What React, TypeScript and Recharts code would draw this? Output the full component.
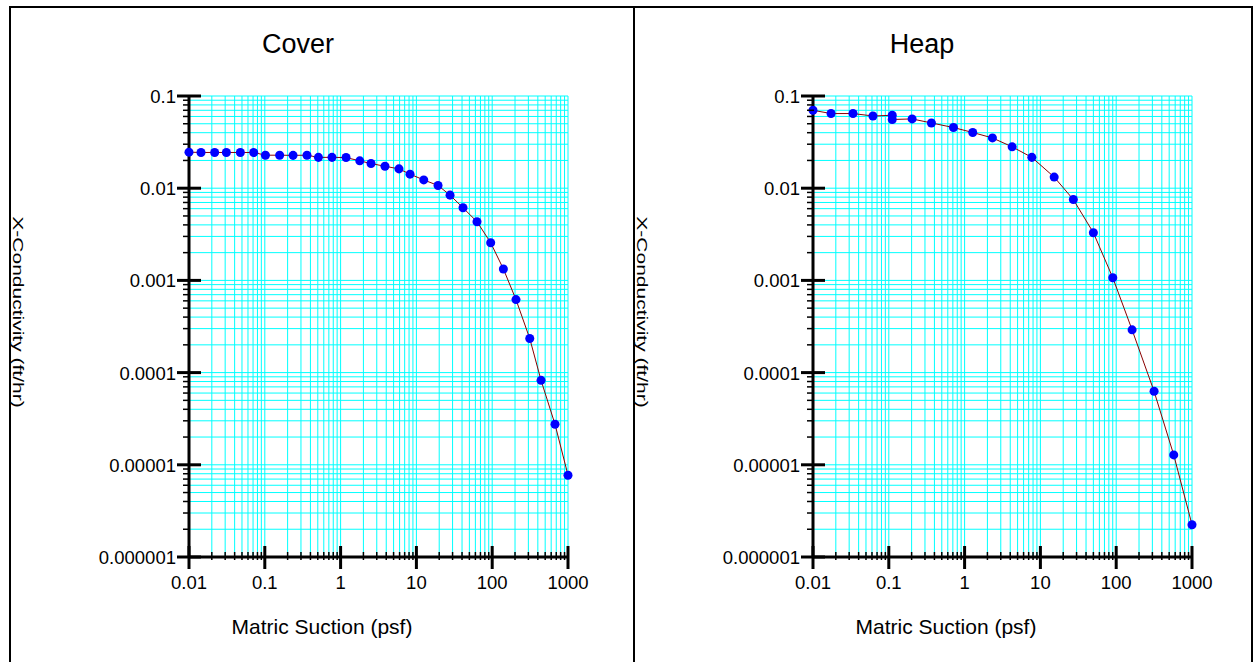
import React from "react";
import { ScatterChart, Scatter, XAxis, YAxis, CartesianGrid } from "recharts";

// major ticks (labelled); minor ticks 2..9 are added per decade below
const suctionMajor = [0.01, 0.1, 1, 10, 100, 1000];
const conductivityMajor = [0.000001, 0.00001, 0.0001, 0.001, 0.01, 0.1];

// Cover material: matric suction (psf) vs x-conductivity (ft/hr)
const coverSuction = [
  0.01, 0.0144, 0.0218, 0.0311, 0.0476, 0.0714, 0.102, 0.157, 0.236, 0.36,
  0.51, 0.77, 1.18, 1.79, 2.52, 3.85, 5.89, 8.24, 12.5, 19.3, 27.8, 41.2, 63,
  95.5, 140.5, 206, 313, 441, 674, 1000,
];
const coverConductivity = [
  0.0246, 0.0244, 0.0244, 0.0244, 0.0244, 0.0244, 0.0228, 0.0228, 0.0227,
  0.0228, 0.0216, 0.0216, 0.0215, 0.0198, 0.0185, 0.0173, 0.0162, 0.0142,
  0.0123, 0.0107, 0.00841, 0.00613, 0.00433, 0.00256, 0.00133, 0.000619,
  0.000234, 0.0000824, 0.0000275, 0.0000077,
];

// Heap material
const heapSuction = [
  0.01, 0.0173, 0.0337, 0.0618, 0.111, 0.111, 0.203, 0.365, 0.713, 1.28, 2.33,
  4.24, 7.71, 15.2, 27.2, 50, 90.1, 162, 316, 574, 1000,
];
const heapConductivity = [
  0.07, 0.0645, 0.0645, 0.0607, 0.0618, 0.0556, 0.0564, 0.051, 0.0455, 0.0402,
  0.0351, 0.0281, 0.0216, 0.0132, 0.00753, 0.00329, 0.00107, 0.000291,
  0.0000627, 0.0000128, 0.00000224,
];

const FONT = "'Liberation Sans', Arial, Helvetica, sans-serif";
const GRID = "#00ffff";
const DOT = "#0000ff";
const CURVE = "#8b0000";

const withMinors = (majors: number[]) => {
  const out: number[] = [];
  majors.forEach((m, i) => {
    out.push(m);
    if (i < majors.length - 1) {
      for (let k = 2; k <= 9; k++) out.push(m * k);
    }
  });
  return out;
};

const xTicks = withMinors(suctionMajor);
const yTicks = withMinors(conductivityMajor);
const xMajorSet = new Set(suctionMajor);
const yMajorSet = new Set(conductivityMajor);

const toPoints = (xs: number[], ys: number[]) =>
  xs.map((x, i) => ({ x, y: ys[i] }));

const XTick = (props: any) => {
  const { x, y, payload } = props;
  const major = xMajorSet.has(payload.value);
  return (
    <g>
      {major ? (
        <line x1={x} y1={y - 11} x2={x} y2={y + 12} stroke="#000" strokeWidth={3} />
      ) : (
        <line x1={x} y1={y - 5} x2={x} y2={y + 3} stroke="#000" strokeWidth={1.5} />
      )}
      {major && (
        <text x={x} y={y + 32} textAnchor="middle" fontSize={18.5} fontFamily={FONT} fill="#000">
          {String(payload.value)}
        </text>
      )}
    </g>
  );
};

const YTick = (props: any) => {
  const { x, y, payload } = props;
  const major = yMajorSet.has(payload.value);
  return (
    <g>
      {major ? (
        <line x1={x - 12} y1={y} x2={x + 12} y2={y} stroke="#000" strokeWidth={3} />
      ) : (
        <line x1={x - 6} y1={y} x2={x + 1} y2={y} stroke="#000" strokeWidth={1.5} />
      )}
      {major && (
        <text x={x - 13} y={y + 7} textAnchor="end" fontSize={18.5} fontFamily={FONT} fill="#000">
          {String(payload.value)}
        </text>
      )}
    </g>
  );
};

interface PanelProps {
  left: number; // page x of the chart svg
  frameLeft: number; // page x of the panel's inner left edge
  title: string;
  data: { x: number; y: number }[];
}

const Panel: React.FC<PanelProps> = ({ left, frameLeft, title, data }) => (
  <>
    {/* narrow, stretched y label hugging the panel edge */}
    <div
      style={{
        position: "absolute",
        left: frameLeft + 6.5,
        top: 311.5,
        transform: "translate(-50%, -50%) rotate(90deg) scaleX(1.5)",
        fontSize: 14,
        lineHeight: "14px",
        whiteSpace: "nowrap",
        fontFamily: FONT,
        color: "#000",
      }}
    >
      X-Conductivity (ft/hr)
    </div>
    <div
      style={{
        position: "absolute",
        left: left + 298,
        top: 31,
        width: 200,
        marginLeft: -100,
        textAlign: "center",
        fontSize: 27,
        lineHeight: "27px",
        fontFamily: FONT,
        color: "#000",
      }}
    >
      {title}
    </div>
    <div
      style={{
        position: "absolute",
        left: left + 322,
        top: 616,
        width: 300,
        marginLeft: -150,
        textAlign: "center",
        fontSize: 21,
        lineHeight: "21px",
        fontFamily: FONT,
        color: "#000",
      }}
    >
      Matric Suction (psf)
    </div>
    <div style={{ position: "absolute", left, top: 0 }}>
      <ScatterChart
        width={620}
        height={662}
        margin={{ top: 96, right: 52, bottom: 65, left: 109 }}
      >
        <CartesianGrid stroke={GRID} strokeWidth={1} />
        <XAxis
          type="number"
          dataKey="x"
          scale="log"
          domain={[0.01, 1000]}
          ticks={xTicks}
          interval={0}
          tickSize={0}
          tickMargin={0}
          tickLine={false}
          tick={(p: any) => <XTick {...p} />}
          axisLine={{ stroke: "#000", strokeWidth: 3 }}
          height={40}
        />
        <YAxis
          type="number"
          dataKey="y"
          scale="log"
          domain={[0.000001, 0.1]}
          ticks={yTicks}
          interval={0}
          tickSize={0}
          tickMargin={0}
          tickLine={false}
          tick={(p: any) => <YTick {...p} />}
          axisLine={{ stroke: "#000", strokeWidth: 3 }}
          width={80}
        />
        <Scatter
          data={data}
          fill={DOT}
          shape="circle"
          line={{ stroke: CURVE, strokeWidth: 1 }}
          lineJointType="linear"
          isAnimationActive={false}
        />
      </ScatterChart>
    </div>
  </>
);

export default function App() {
  return (
    <div
      style={{
        position: "absolute",
        left: 0,
        top: 0,
        width: 1254,
        height: 662,
        background: "#fff",
        overflow: "hidden",
        fontFamily: FONT,
      }}
    >
      <div
        style={{
          position: "absolute",
          left: 9,
          top: 6,
          width: 1244,
          height: 680,
          borderLeft: "2px solid #000",
          borderTop: "2px solid #000",
          borderRight: "2px solid #000",
          boxSizing: "border-box",
        }}
      />
      <div style={{ position: "absolute", left: 633, top: 6, width: 2, height: 660, background: "#000" }} />
      <Panel
        left={0}
        frameLeft={11}
        title="Cover"
        data={toPoints(coverSuction, coverConductivity)}
      />
      <Panel
        left={624}
        frameLeft={635}
        title="Heap"
        data={toPoints(heapSuction, heapConductivity)}
      />
    </div>
  );
}
